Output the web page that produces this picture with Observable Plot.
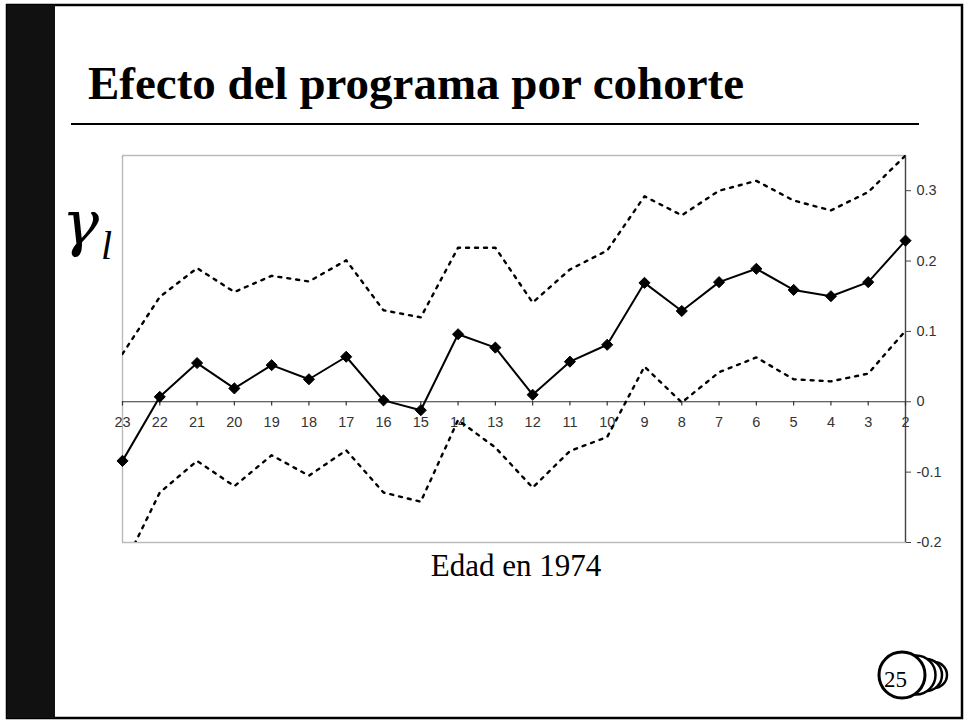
<!DOCTYPE html>
<html>
<head>
<meta charset="utf-8">
<script src="https://cdn.jsdelivr.net/npm/d3@7"></script>
<script src="https://cdn.jsdelivr.net/npm/@observablehq/plot@0.6"></script>
<style>
  html, body { margin: 0; padding: 0; background: #fff; }
  body { width: 969px; height: 723px; position: relative; overflow: hidden; }
  #deco { position: absolute; left: 0; top: 0; }
  .serif { font-family: "Liberation Serif", "Times New Roman", serif; position: absolute; line-height: 1; white-space: nowrap; color: #000; }
  #title { left: 88px; top: 60px; font-size: 47px; font-weight: bold; }
  #xlabel { left: 516px; top: 550px; font-size: 31px; transform: translateX(-50%); }
  #gamma { left: 62px; top: 192px; font-size: 62px; font-style: italic; font-family: "DejaVu Serif", serif; }
  #gsub { left: 101px; top: 226px; font-size: 40px; font-style: italic; }
  #chart { position: absolute; left: 0; top: 140px; }
</style>
</head>
<body>
<svg id="deco" width="969" height="723">
  <rect x="7" y="5" width="955" height="713" fill="none" stroke="#000" stroke-width="2.5"/>
  <rect x="7" y="5" width="48" height="713" fill="#111"/>
  <line x1="71" x2="919" y1="124" y2="124" stroke="#000" stroke-width="2.2"/>
  <g stroke="#000" fill="#fff">
    <circle cx="934" cy="675" r="13" stroke-width="2.5"/>
    <circle cx="926" cy="675" r="16" stroke-width="2.5"/>
    <circle cx="916" cy="675" r="19.5" stroke-width="2.5"/>
    <circle cx="902" cy="675" r="23" stroke-width="3"/>
  </g>
  <text x="884" y="687" font-family="Liberation Serif, Times New Roman, serif" font-size="23">25</text>
</svg>
<div id="title" class="serif">Efecto del programa por cohorte</div>
<div id="gamma" class="serif">γ</div>
<div id="gsub" class="serif">l</div>
<div id="chart"></div>
<div id="xlabel" class="serif">Edad en 1974</div>
<script>
const ages = [23,22,21,20,19,18,17,16,15,14,13,12,11,10,9,8,7,6,5,4,3,2];
const estimate = [-0.084,0.007,0.055,0.019,0.052,0.032,0.064,0.002,-0.012,0.096,0.077,0.010,0.057,0.081,0.169,0.129,0.170,0.189,0.159,0.150,0.170,0.229];
const upper = [0.068,0.149,0.190,0.156,0.179,0.171,0.201,0.130,0.120,0.219,0.219,0.141,0.188,0.215,0.292,0.265,0.300,0.314,0.286,0.272,0.298,0.350];
const lower = [-0.237,-0.129,-0.084,-0.120,-0.076,-0.105,-0.069,-0.129,-0.142,-0.026,-0.065,-0.122,-0.070,-0.050,0.050,-0.001,0.042,0.063,0.032,0.029,0.040,0.101];
const yTicks = [-0.2,-0.1,0,0.1,0.2,0.3];

const rows = ages.map((a, i) => ({age: a, est: estimate[i], up: upper[i], lo: lower[i]}));

const chart = Plot.plot({
  width: 969,
  height: 440,
  marginLeft: 122,
  marginRight: 64,
  marginTop: 15,
  marginBottom: 38,
  style: {fontFamily: "'Liberation Sans', Arial, sans-serif", fontSize: "14.5px", color: "#333", background: "transparent", overflow: "visible"},
  x: {domain: [23, 2], axis: null},
  y: {domain: [-0.2, 0.35], axis: null},
  marks: [
    Plot.frame({stroke: "#777", strokeDasharray: "1,1", strokeWidth: 1.4}),
    Plot.ruleX([2], {stroke: "#444", strokeWidth: 1.3}),
    Plot.ruleY([0], {stroke: "#333", strokeWidth: 1.2}),
    Plot.ruleX(ages, {x: d => d, y1: 0, y2: -0.006, stroke: "#333", strokeWidth: 1.2}),
    Plot.text(ages, {x: d => d, y: 0, dy: 21, text: d => String(d), fill: "#333", fontSize: 14.5}),
    Plot.axisY({anchor: "right", ticks: yTicks, tickSize: 5, tickPadding: 6, tickFormat: d => String(d), stroke: "#444", fill: "#333", fontSize: 14.5}),
    Plot.line(rows, {x: "age", y: "up", stroke: "#000", strokeWidth: 2.4, strokeDasharray: "3,6", clip: true}),
    Plot.line(rows, {x: "age", y: "lo", stroke: "#000", strokeWidth: 2.4, strokeDasharray: "3,6", clip: true}),
    Plot.line(rows, {x: "age", y: "est", stroke: "#000", strokeWidth: 2}),
    Plot.dot(rows, {x: "age", y: "est", symbol: "diamond2", r: 5, fill: "#000", stroke: "#000", strokeWidth: 1})
  ]
});
document.getElementById("chart").appendChild(chart);
</script>
</body>
</html>
